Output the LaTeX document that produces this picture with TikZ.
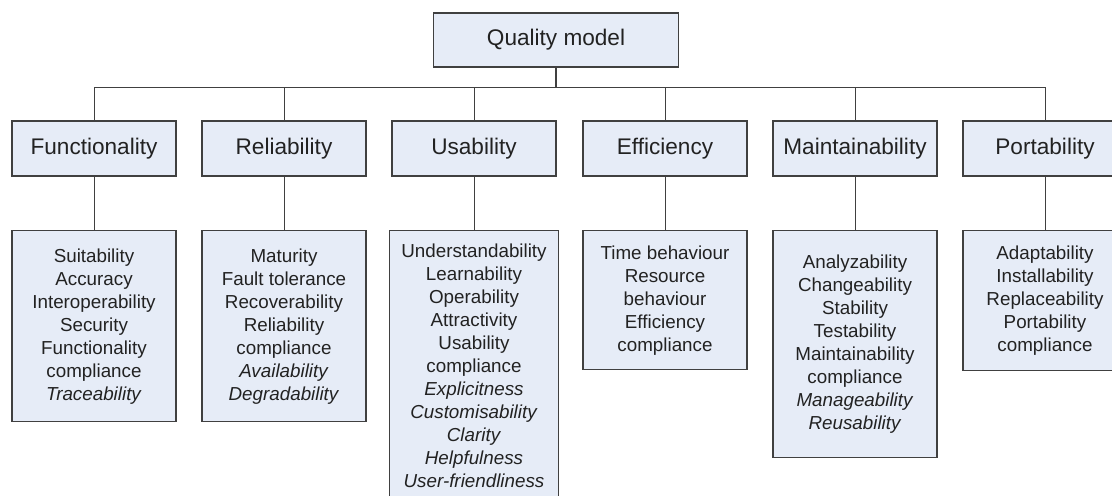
\documentclass[tikz,border=0pt]{standalone}
\usepackage{fontspec}
\setmainfont{Liberation Sans}
\usetikzlibrary{calc}
\definecolor{boxfill}{RGB}{230,236,247}
\definecolor{boxline}{RGB}{64,64,64}
\definecolor{inktext}{RGB}{34,34,34}
\tikzset{
  head/.style={draw=boxline, line width=0.7pt, fill=boxfill, text=inktext,
    font=\fontsize{11.3}{13}\selectfont, minimum width=82pt, minimum height=27.5pt, inner sep=0pt},
  leaf/.style={draw=boxline, line width=0.7pt, fill=boxfill, text=inktext,
    font=\fontsize{9.4}{11.5}\selectfont, align=center, anchor=north, minimum width=82pt, inner sep=0pt},
  link/.style={draw=boxline, line width=0.5pt}
}

\begin{document}
\begin{tikzpicture}[x=0.5pt,y=-0.5pt]

  \useasboundingbox (0,0) rectangle (1112,495); %図の範囲
  \clip (0,0) rectangle (1112,495); %はみ出しを切る
  \coordinate (bar) at (556,87); %横線の高さ

  % Quality model
  \node[head, minimum width=122.5pt, minimum height=27pt] (QM) at (556,40) {Quality model}; %最上位

  % 特性
  \node[head] (F) at (94,148.5) {Functionality};
  \node[head] (R) at (284,148.5) {Reliability};
  \node[head] (U) at (474,148.5) {Usability};
  \node[head] (E) at (665,148.5) {Efficiency};
  \node[head] (M) at (855,148.5) {Maintainability};
  \node[head] (P) at (1045,148.5) {Portability};

  % 副特性
  \node[leaf, minimum height=95.5pt] (Fs) at (94,230)
    {Suitability\\Accuracy\\Interoperability\\Security\\Functionality\\compliance\\\textit{Traceability}};
  \node[leaf, minimum height=95.5pt] (Rs) at (284,230)
    {Maturity\\Fault tolerance\\Recoverability\\Reliability\\compliance\\\textit{Availability}\\\textit{Degradability}};
  \node[leaf, minimum width=84.5pt, minimum height=135pt] (Us) at (474,230)
    {Understandability\\Learnability\\Operability\\Attractivity\\Usability\\compliance\\\textit{Explicitness}\\\textit{Customisability}\\\textit{Clarity}\\\textit{Helpfulness}\\\textit{User-friendliness}};
  \node[leaf, minimum height=69.5pt] (Es) at (665,230)
    {Time behaviour\\Resource\\behaviour\\Efficiency\\compliance};
  \node[leaf, minimum height=113.5pt] (Ms) at (855,230)
    {Analyzability\\Changeability\\Stability\\Testability\\Maintainability\\compliance\\\textit{Manageability}\\\textit{Reusability}};
  \node[leaf, minimum height=70pt] (Ps) at (1045,230)
    {Adaptability\\Installability\\Replaceability\\Portability\\compliance};

  % 最上位から横線へ
  \draw[link, line width=1pt] (QM.south) -- (bar);
  \draw[link] (bar -| F.north) -- (bar -| P.north); %横線

  % 横線から特性へ
  \draw[link] (F.north |- bar) -- (F.north);
  \draw[link] (R.north |- bar) -- (R.north);
  \draw[link] (U.north |- bar) -- (U.north);
  \draw[link] (E.north |- bar) -- (E.north);
  \draw[link] (M.north |- bar) -- (M.north);
  \draw[link] (P.north |- bar) -- (P.north);

  % 特性から副特性へ
  \draw[link] (F.south) -- (Fs.north);
  \draw[link] (R.south) -- (Rs.north);
  \draw[link] (U.south) -- (Us.north);
  \draw[link] (E.south) -- (Es.north);
  \draw[link] (M.south) -- (Ms.north);
  \draw[link] (P.south) -- (Ps.north);

\end{tikzpicture}
\end{document}
